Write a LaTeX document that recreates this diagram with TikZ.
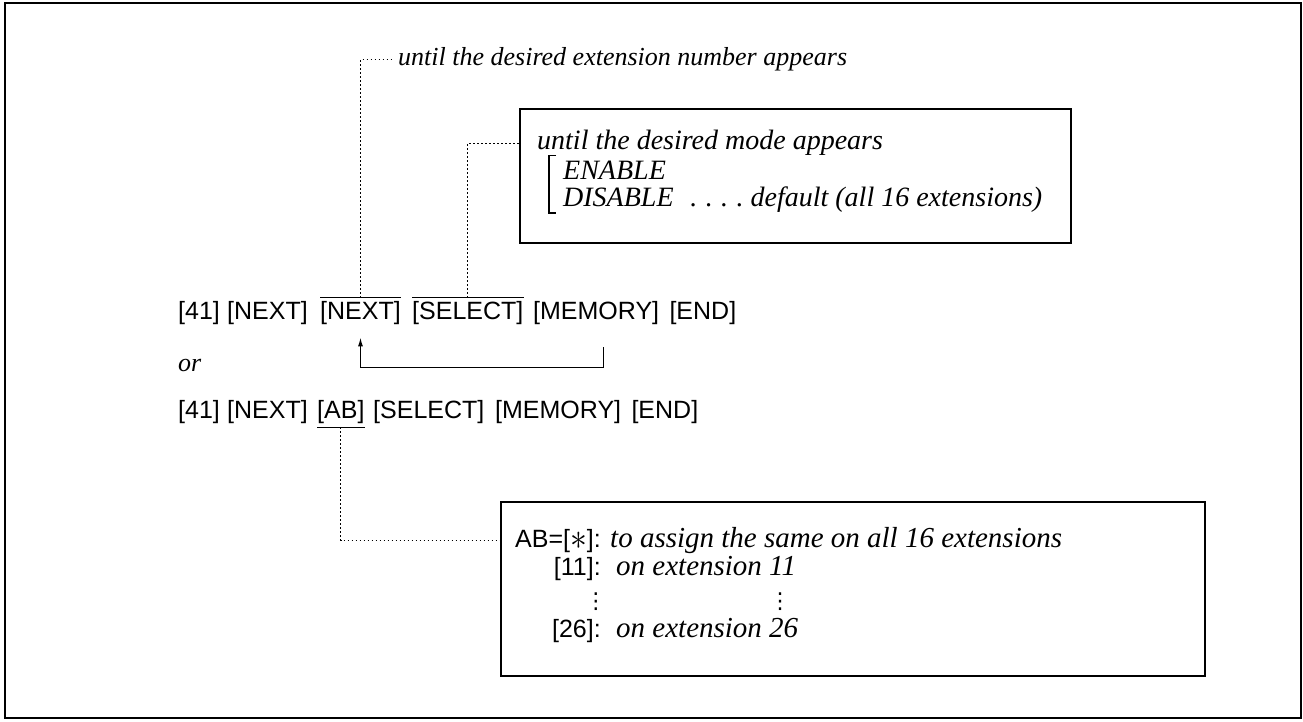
\documentclass[tikz,border=0pt]{standalone}
\usepackage{fontspec}
\usetikzlibrary{calc,arrows.meta}
\newfontfamily\keyfam{Liberation Sans}
\newfontfamily\notefam{Liberation Serif}
\newfontfamily\symfam{DejaVu Sans}
\newcommand\keyfont{\keyfam\fontsize{25}{30}\selectfont}
\newcommand\notefont{\notefam\itshape\fontsize{26}{31}\selectfont}
\newcommand\boxnotefont{\notefam\itshape\fontsize{28}{33}\selectfont}
\newcommand\lownotefont{\notefam\itshape\fontsize{29}{34}\selectfont}
\newcommand\bigast{\raisebox{-2pt}{\scalebox{1.35}[1.5]{$\ast$}}}
\begin{document}
\begin{tikzpicture}[x=1pt,y=-1pt,
  key/.style={inner sep=0pt, anchor=base west, font=\keyfont},
  keyr/.style={inner sep=0pt, anchor=base east, font=\keyfont},
  note/.style={inner sep=0pt, anchor=base west, font=\notefont},
  boxnote/.style={inner sep=0pt, anchor=base west, font=\boxnotefont},
  lownote/.style={inner sep=0pt, anchor=base west, font=\lownotefont},
  vdot/.style={inner sep=0pt, font=\symfam\fontsize{22}{22}\selectfont},
  dotline/.style={line width=1.3pt, dash pattern=on 1.3pt off 2.7pt},
  barline/.style={line width=1.3pt},
  arrowline/.style={line width=1.3pt},
  boxline/.style={draw, line width=2pt, inner sep=0pt, anchor=north west},
  frameline/.style={line width=2pt}]
\useasboundingbox (0,0) rectangle (1303,722);
\draw[frameline] (5,3) rectangle (1301,718);

% top note
\node[note] (t1) at (398,66) {until the desired extension number appears};

% upper box
\node[boxline, minimum width=551pt, minimum height=134pt] (ubox) at (519,108) {};
\node[boxnote] (u1) at (537,150) {until the desired mode appears};
\node[boxnote] (u2) at (563,179) {ENABLE};
\node[boxnote] (u3) at (563,207) {DISABLE\hspace{0.6em}.\hspace{0.3em}.\hspace{0.3em}.\hspace{0.3em}.\ default (all 16 extensions)};
\draw[line width=1.3pt] ($(u2.west)+(-7,-14)$) -- ($(u2.west)+(-14,-14)$) |- ($(u3.west)+(-7,13)$);

% command line 1
\node[key] (a1) at (178,319) {[41]};
\node[key] (a2) at (227,319) {[NEXT]};
\node[key] (a3) at (320,319) {[NEXT]};
\node[key] (a4) at (412,319) {[SELECT]};
\node[key] (a5) at (533,319) {[MEMORY]};
\node[key] (a6) at ($(a5.base east)+(10,0)$) {[END]};
\draw[barline] ($(a3.north west)+(0,-3)$) -- ($(a3.north east)+(0,-3)$);
\draw[barline] ($(a4.north west)+(0,-3)$) -- ($(a4.north east)+(0,-3)$);
\draw[dotline] ($(a3.north)+(0,-3)$) |- ($(t1.west)+(-4,0)$);
\draw[dotline] ($(a4.north)+(0,-3)$) |- (ubox.west |- u1.west);
\draw[arrowline, -{Latex[length=9pt,width=5pt]}] ($(a5.south)+(7,23)$) |- ($(a3.south)+(0,43)$) -- ($(a3.south)+(0,13)$);

\node[note] (or) at (178,371) {or};

% command line 2
\node[key] (b1) at (178,418) {[41]};
\node[key] (b2) at (227,418) {[NEXT]};
\node[key] (b3) at (317,418) {[AB]};
\node[key] (b4) at (373,418) {[SELECT]};
\node[key] (b5) at (495,418) {[MEMORY]};
\node[key] (b6) at ($(b5.base east)+(10,0)$) {[END]};
\draw[barline] ($(b3.south west)+(0,4)$) -- ($(b3.south east)+(0,4)$);

% lower box
\node[boxline, minimum width=704pt, minimum height=174pt] (lbox) at (500,501) {};
\node[key] (l1) at (515,547) {AB=[\bigast]:};
\node[lownote] (l1t) at ($(l1.base east)+(9,0)$) {to assign the same on all 16 extensions};
\node[keyr] (l2) at (l1.base east |- 0,575) {[11]:};
\node[lownote] (l2t) at ($(l2.base east)+(15,0)$) {on extension 11};
\node[vdot] (v1) at ($(l2.base east)+(-5,27)$) {⋮};
\node[vdot] (v2) at (780,602) {⋮};
\node[keyr] (l3) at (l1.base east |- 0,637) {[26]:};
\node[lownote] (l3t) at ($(l3.base east)+(15,0)$) {on extension 26};
\draw[dotline] ($(b3.south)+(0,4)$) |- (lbox.west |- l1.west);
\end{tikzpicture}
\end{document}
